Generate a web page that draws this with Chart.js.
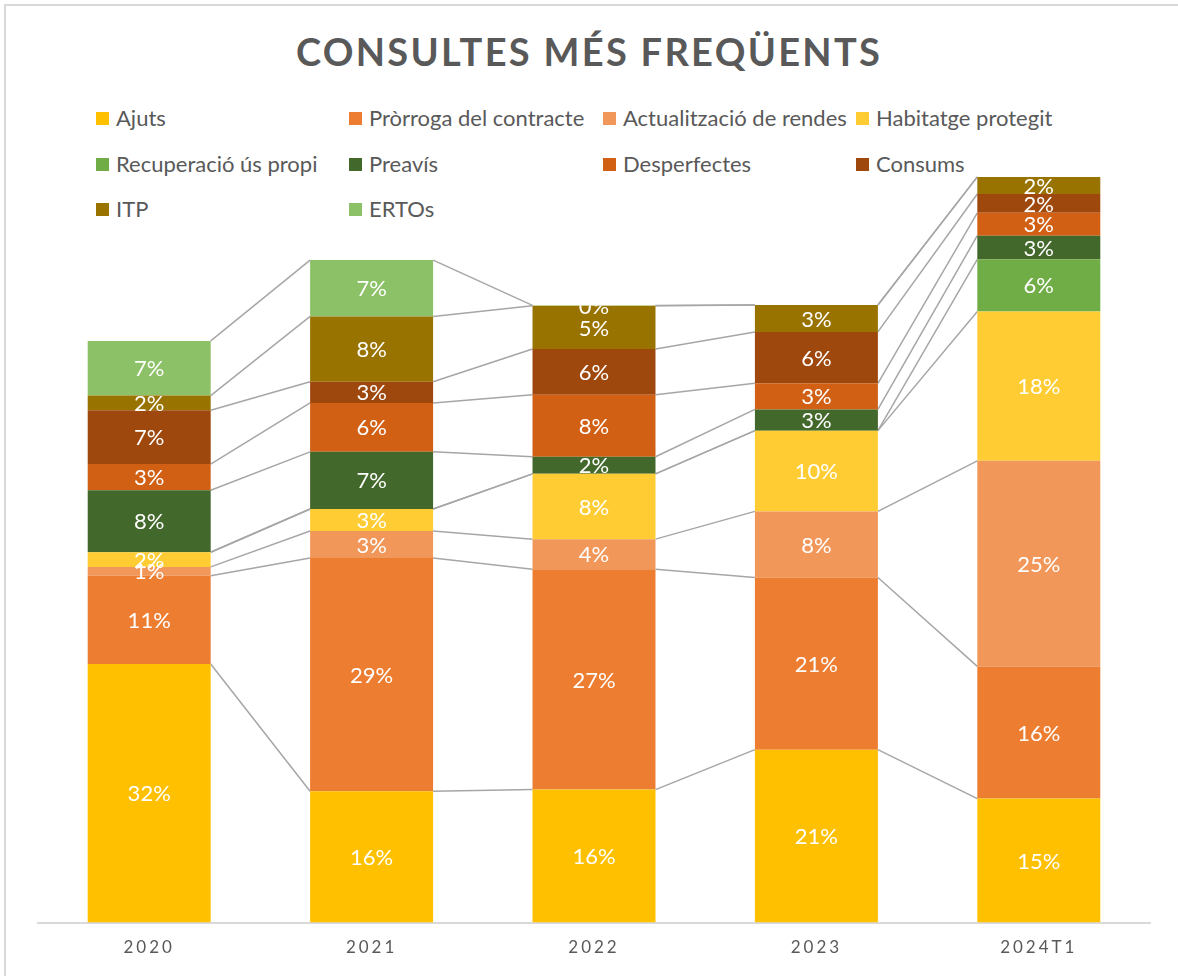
<!DOCTYPE html>
<html lang="ca">
<head>
<meta charset="utf-8">
<title>Consultes més freqüents</title>
<script src="https://cdn.jsdelivr.net/npm/chart.js@4.4.1/dist/chart.umd.min.js"></script>
<style>
  html, body { margin: 0; padding: 0; background: #fff; }
  #wrap { position: relative; width: 1178px; height: 976px; overflow: hidden; font-family: Lato, "Open Sans", sans-serif; }
  #frame { position: absolute; left: 4px; top: 4px; right: -10px; bottom: -10px; border-left: 2px solid #D9D9D9; border-top: 2px solid #D9D9D9; }
  #title { position: absolute; left: 0; right: 0; top: 28px; text-align: center; font-size: 38px; font-weight: 700; letter-spacing: 2.3px; color: #595959; }
  #legend { position: absolute; left: 96px; top: 105px; display: grid; grid-template-columns: 253px 254px 253px auto; grid-auto-rows: 45.5px; }
  .lg-item { display: flex; align-items: flex-start; font-size: 22px; color: #595959; white-space: nowrap; line-height: 26px; }
  .lg-box { width: 13px; height: 13px; margin: 7px 7px 0 0; flex: none; }
  canvas { position: absolute; left: 0; top: 0; }
</style>
</head>
<body>
<div id="wrap">
  <div id="frame"></div>
  <div id="title">CONSULTES MÉS FREQÜENTS</div>
  <div id="legend"></div>
  <canvas id="chart" width="1178" height="976"></canvas>
</div>
<script>
/* ---- dades (percentatges llegits del gràfic) ---- */
const anys = ['2020', '2021', '2022', '2023', '2024T1'];

const ajuts          = [31.7, 16.1, 16.3, 21.2, 15.2];
const prorroga       = [10.8, 28.6, 27.0, 21.1, 16.2];
const actualitzacio  = [1.1, 3.3, 3.7, 8.1, 25.2];
const habitatge      = [1.8, 2.7, 8.0, 9.9, 18.3];
const recuperacio    = [null, null, null, null, 6.4];
const preavis        = [7.6, 7.0, 2.1, 2.6, 2.9];
const desperfectes   = [3.2, 6.0, 7.6, 3.2, 2.8];
const consums        = [6.6, 2.6, 5.6, 6.3, 2.3];
const itp            = [1.8, 8.0, 5.3, 3.3, 2.1];
const ertos          = [6.7, 6.9, 0.05, null, null];

const series = [
  { label: 'Ajuts',                   data: ajuts,         color: '#FFC000' },
  { label: 'Pròrroga del contracte',  data: prorroga,      color: '#ED7D31' },
  { label: 'Actualització de rendes', data: actualitzacio, color: '#F1975A' },
  { label: 'Habitatge protegit',      data: habitatge,     color: '#FFCD33' },
  { label: 'Recuperació ús propi',    data: recuperacio,   color: '#70AD47' },
  { label: 'Preavís',                 data: preavis,       color: '#43682B' },
  { label: 'Desperfectes',            data: desperfectes,  color: '#D16014' },
  { label: 'Consums',                 data: consums,       color: '#9E480E' },
  { label: 'ITP',                     data: itp,           color: '#997300' },
  { label: 'ERTOs',                   data: ertos,         color: '#8CC168' },
];

/* ---- llegenda HTML ---- */
const legend = document.getElementById('legend');
series.forEach(s => {
  const item = document.createElement('div');
  item.className = 'lg-item';
  item.innerHTML = `<span class="lg-box" style="background:${s.color}"></span><span>${s.label}</span>`;
  legend.appendChild(item);
});

/* ---- línies de sèrie entre columnes (estil Excel) ---- */
const seriesLines = {
  id: 'seriesLines',
  beforeDatasetsDraw(chart) {
    const ctx = chart.ctx;
    ctx.letterSpacing = '0px';
    const y = chart.scales.y;
    const bars = chart.getDatasetMeta(0).data;
    const n = chart.data.labels.length;
    ctx.save();
    ctx.strokeStyle = '#A6A6A6';
    ctx.lineWidth = 1.5;
    for (let d = 0; d < chart.data.datasets.length; d++) {
      for (let i = 0; i < n - 1; i++) {
        let a = 0, b = 0;
        for (let k = 0; k <= d; k++) {
          a += chart.data.datasets[k].data[i] || 0;
          b += chart.data.datasets[k].data[i + 1] || 0;
        }
        const x1 = bars[i].x + bars[i].width / 2;
        const x2 = bars[i + 1].x - bars[i + 1].width / 2;
        ctx.beginPath();
        ctx.moveTo(x1, y.getPixelForValue(a));
        ctx.lineTo(x2, y.getPixelForValue(b));
        ctx.stroke();
      }
    }
    ctx.restore();
  }
};

/* ---- etiquetes de valor dins les barres ---- */
const barLabels = {
  id: 'barLabels',
  afterDatasetsDraw(chart) {
    const ctx = chart.ctx;
    const n = chart.data.labels.length;
    for (let i = 0; i < n; i++) {
      let top = Infinity, left = 0, w = 0, bottom = 0;
      chart.data.datasets.forEach((ds, d) => {
        const el = chart.getDatasetMeta(d).data[i];
        if (ds.data[i] == null) return;
        top = Math.min(top, el.y);
        left = el.x - el.width / 2; w = el.width; bottom = Math.max(bottom, el.base);
      });
      ctx.save();
      ctx.beginPath();
      ctx.rect(left, top, w, bottom - top);
      ctx.clip();
      ctx.fillStyle = '#FFFFFF';
      ctx.font = '22px Lato, "Open Sans", sans-serif';
      ctx.textAlign = 'center';
      ctx.textBaseline = 'middle';
      chart.data.datasets.forEach((ds, d) => {
        const v = ds.data[i];
        if (v == null) return;
        const el = chart.getDatasetMeta(d).data[i];
        ctx.fillText(Math.round(v) + '%', el.x, (el.y + el.base) / 2 + 1);
      });
      ctx.restore();
    }
  }
};

/* espaiat de lletres a les etiquetes de l'eix X */
const tickSpacing = {
  id: 'tickSpacing',
  beforeDraw(chart) { chart.ctx.letterSpacing = '3px'; }
};

new Chart(document.getElementById('chart'), {
  type: 'bar',
  data: {
    labels: anys,
    datasets: series.map(s => ({
      label: s.label,
      data: s.data,
      backgroundColor: s.color,
      borderWidth: 0,
      barPercentage: 0.553,
      categoryPercentage: 1,
    })),
  },
  options: {
    responsive: false,
    animation: false,
    layout: { padding: { left: 38, right: 28, top: 172, bottom: 3 } },
    plugins: {
      legend: { display: false },
      title: { display: false },
      tooltip: { enabled: false },
    },
    scales: {
      x: {
        stacked: true,
        grid: { display: false, drawTicks: false },
        border: { color: '#D9D9D9', width: 2 },
        ticks: { color: '#595959', font: { family: 'Lato', size: 17 }, padding: 15 },
      },
      y: { stacked: true, display: false, min: 0, max: 92 },
    },
  },
  plugins: [tickSpacing, seriesLines, barLabels],
});
</script>
</body>
</html>
